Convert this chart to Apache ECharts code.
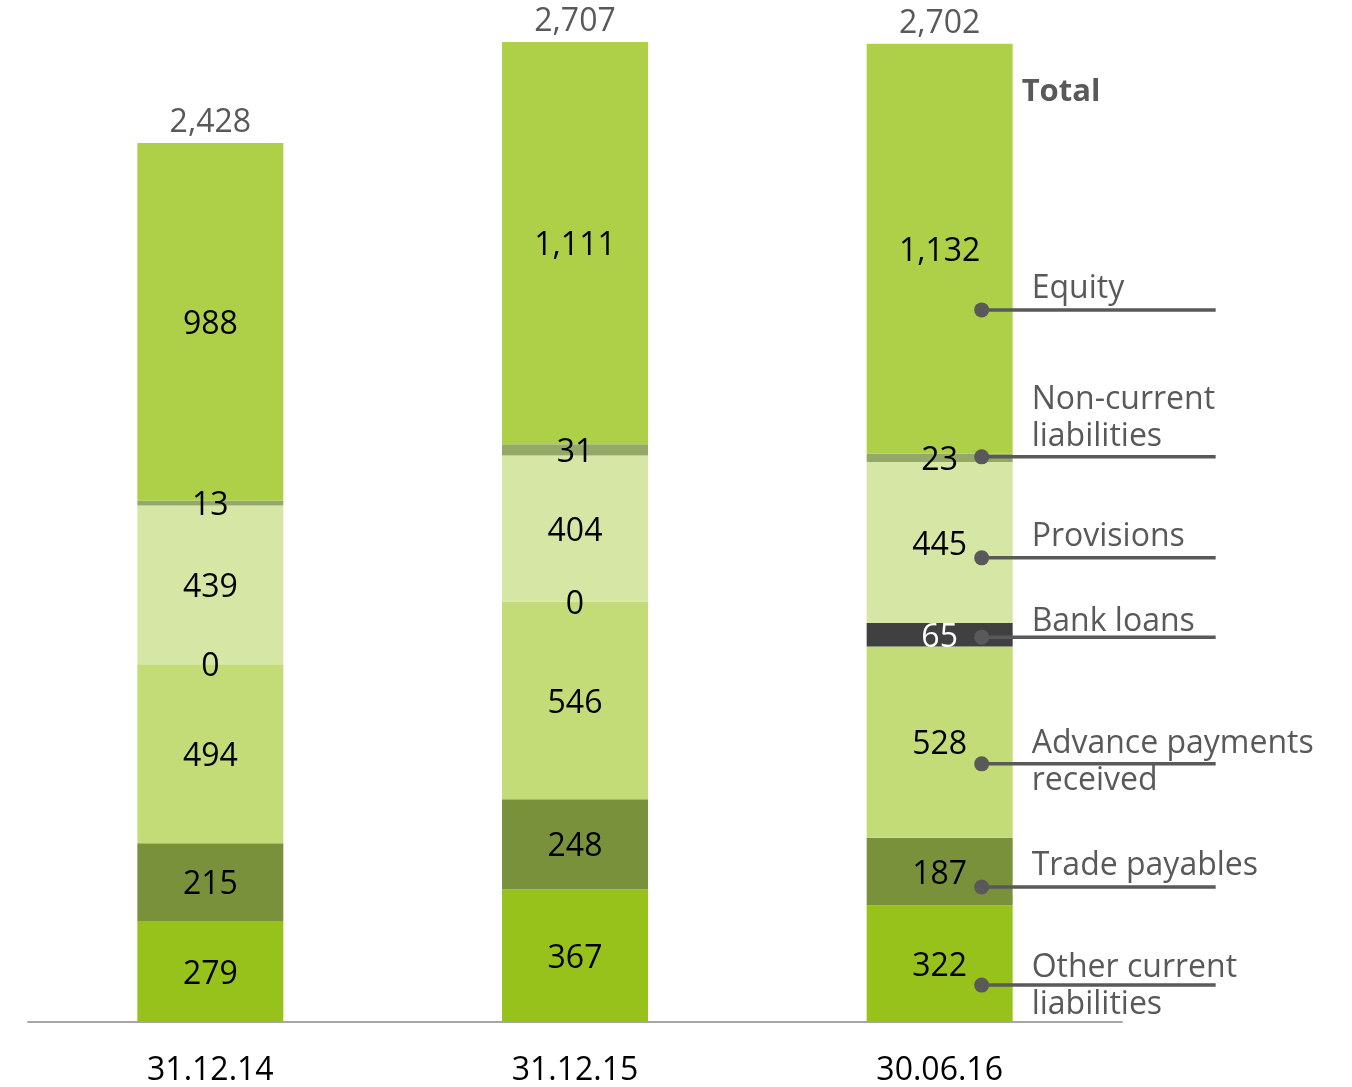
<!DOCTYPE html>
<html>
<head>
<meta charset="utf-8">
<style>
  html, body { margin: 0; padding: 0; background: #ffffff; }
  #chart { width: 1352px; height: 1087px; }
</style>
<script src="https://cdn.jsdelivr.net/npm/echarts@6/dist/echarts.min.js"></script>
</head>
<body>
<div id="chart"></div>
<script>
// Balance sheet: equity and liabilities (EUR m)
const periods = ['31.12.14', '31.12.15', '30.06.16'];

const otherCurrentLiabilities = [279, 367, 322];
const tradePayables = [215, 248, 187];
const advancePayments = [494, 546, 528];
const bankLoans = [0, 0, 65];
const provisions = [439, 404, 445];
const nonCurrentLiabilities = [13, 31, 23];
const equity = [988, 1111, 1132];

const seriesNames = [
  'Other current liabilities',
  'Trade payables',
  'Advance payments received',
  'Bank loans',
  'Provisions',
  'Non-current liabilities',
  'Equity'
];
const seriesValues = [
  otherCurrentLiabilities, tradePayables, advancePayments,
  bankLoans, provisions, nonCurrentLiabilities, equity
];

// Side legend: label text and the value level its pointer sits at on the last column
const legendLabels = [
  'Equity', 'Non-current\nliabilities', 'Provisions', 'Bank loans',
  'Advance payments\nreceived', 'Trade payables', 'Other current\nliabilities'
];
const legendAnchors = [1967, 1561, 1282, 1063, 713, 373, 102];
const totalAnchor = 2574;

const colors = ['#97c11b', '#7a913c', '#c3dc78', '#404040', '#d6e6a4', '#94a867', '#aecf48'];
const FONT = '"Open Sans", "Noto Sans", sans-serif';

const totals = periods.map((_, i) => seriesValues.reduce((s, arr) => s + arr[i], 0));
const fmt = v => v.toLocaleString('en-US');

// offsets of each legend text (px) from its pointer line
const textOffsets = [-21, -38, -21, -15, -1, -21, 1];

const barSeries = seriesNames.map((name, k) => ({
  name,
  type: 'bar',
  stack: 'total',
  barWidth: 146,
  itemStyle: { color: colors[k] },
  label: {
    show: true,
    position: 'inside',
    offset: [0, 3],
    color: '#000000',
    fontFamily: FONT,
    fontSize: 32,
    formatter: p => fmt(p.value)
  },
  data: seriesValues[k].map(v => (k === 3 && v > 0)
    ? { value: v, label: { color: '#ffffff' } }
    : v)
}));

const totalSeries = {
  name: 'Total',
  type: 'scatter',
  symbolSize: 0,
  silent: true,
  itemStyle: { opacity: 1 },
  label: {
    show: true,
    position: 'top',
    distance: 4,
    color: '#595959',
    fontFamily: FONT,
    fontSize: 32,
    formatter: p => fmt(p.value[1])
  },
  data: periods.map((p, i) => [p, totals[i]]),
  z: 5
};

const chart = echarts.init(document.getElementById('chart'));
chart.setOption({
  animation: false,
  backgroundColor: '#ffffff',
  grid: { left: 28, right: 230, top: 8.3, bottom: 65, outerBoundsMode: 'none', containLabel: false },
  xAxis: {
    type: 'category',
    data: periods,
    axisTick: { show: false },
    axisLine: { lineStyle: { color: '#a6a6a6', width: 2 } },
    axisLabel: { color: '#000000', fontFamily: FONT, fontSize: 32, margin: 33 }
  },
  yAxis: {
    type: 'value',
    min: 0,
    max: 2800,
    show: false,
    splitLine: { show: false }
  },
  series: [...barSeries, totalSeries]
});

// Side legend with pointer lines from the last column
const lastCat = periods[periods.length - 1];
const cx = chart.convertToPixel({ xAxisIndex: 0, yAxisIndex: 0 }, [lastCat, 0])[0];
const dotX = cx + 42;
const lineEnd = cx + 276;
const textX = cx + 92;
const graphics = [];
legendLabels.forEach((txt, i) => {
  const y = chart.convertToPixel({ xAxisIndex: 0, yAxisIndex: 0 }, [lastCat, legendAnchors[i]])[1];
  graphics.push({
    type: 'line',
    shape: { x1: dotX, y1: y, x2: lineEnd, y2: y },
    style: { stroke: '#595959', lineWidth: 3.5 },
    z: 10
  });
  graphics.push({
    type: 'circle',
    shape: { cx: dotX, cy: y, r: 7.5 },
    style: { fill: '#595959' },
    z: 11
  });
  graphics.push({
    type: 'text',
    x: textX,
    y: y + textOffsets[i],
    style: {
      text: txt,
      fill: '#595959',
      font: '32px ' + FONT,
      lineHeight: 37,
      align: 'left',
      verticalAlign: 'middle'
    },
    z: 12
  });
});
const ty = chart.convertToPixel({ xAxisIndex: 0, yAxisIndex: 0 }, [lastCat, totalAnchor])[1];
graphics.push({
  type: 'text',
  x: cx + 82,
  y: ty + 2,
  style: {
    text: 'Total',
    fill: '#595959',
    font: 'bold 31px ' + FONT,
    align: 'left',
    verticalAlign: 'middle'
  },
  z: 12
});
chart.setOption({ graphic: graphics });
</script>
</body>
</html>
